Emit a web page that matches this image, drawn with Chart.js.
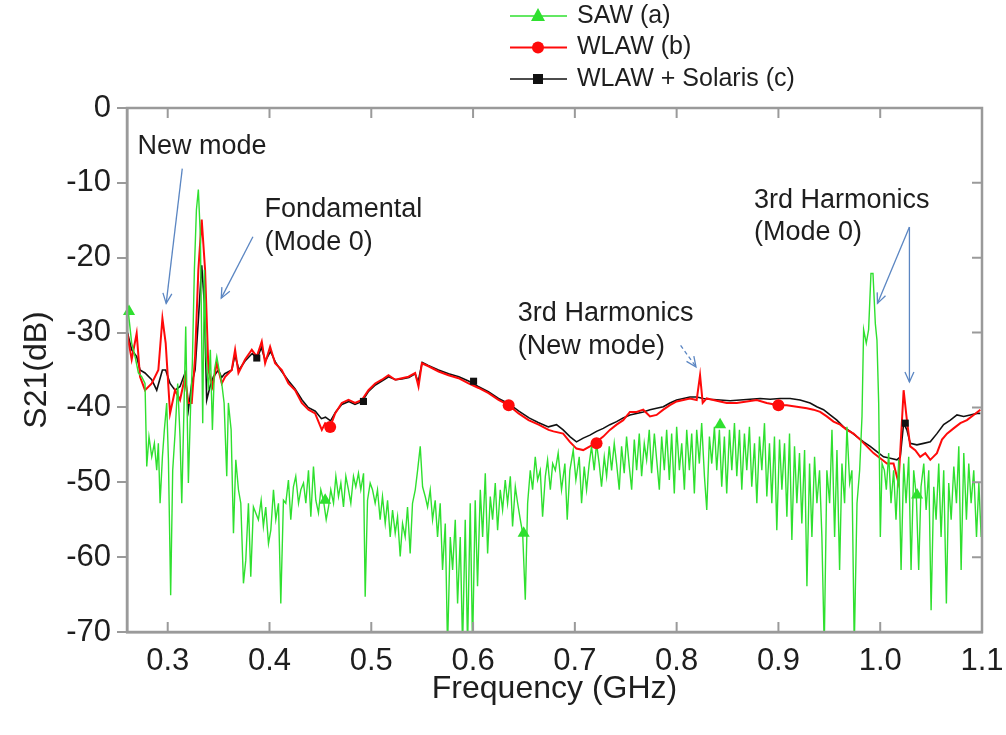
<!DOCTYPE html>
<html><head><meta charset="utf-8">
<script src="https://cdn.jsdelivr.net/npm/chart.js@4.4.0/dist/chart.umd.min.js"></script>
<style>html,body{margin:0;padding:0;background:#fff}#wrap{width:1006px;height:735px}</style>
</head><body><div id="wrap"><canvas id="c" width="1006" height="735" style="width:1006px;height:735px"></canvas></div>
<script>
// ---- axes ----
const xTickValues = [0.3, 0.4, 0.5, 0.6, 0.7, 0.8, 0.9, 1.0, 1.1];
const yTickValues = [0, -10, -20, -30, -40, -50, -60, -70];
const seriesLabels = ['SAW (a)', 'WLAW (b)', 'WLAW + Solaris (c)'];

// ---- SAW (a) [GHz, dB] ----
const sawData = [
[0.2607,-26.5],[0.2646,-31.4],[0.2679,-33.2],[0.2712,-35.4],[0.2744,-35.9],[0.2777,-36.8],[0.2794,-47.9],[0.2816,-43.9],[0.2843,-46.6],[0.2869,-44.8],
[0.2892,-48.4],[0.2908,-44.8],[0.2925,-52.8],[0.2948,-46.6],[0.2967,-43.0],[0.2990,-39.4],[0.3007,-47.0],[0.3029,-65.1],[0.3049,-48.4],[0.3072,-43.5],
[0.3098,-36.8],[0.3121,-43.9],[0.3138,-52.8],[0.3161,-39.4],[0.3177,-29.2],[0.3203,-50.1],[0.3226,-39.4],[0.3242,-34.1],[0.3262,-21.6],[0.3282,-13.6],
[0.3301,-10.9],[0.3321,-17.2],[0.3344,-42.1],[0.3360,-21.6],[0.3377,-33.2],[0.3400,-37.7],[0.3419,-32.3],[0.3439,-43.0],[0.3459,-35.0],[0.3482,-33.2],
[0.3505,-35.0],[0.3531,-36.8],[0.3554,-39.4],[0.3580,-49.2],[0.3596,-39.4],[0.3623,-43.0],[0.3646,-56.8],[0.3669,-47.0],[0.3695,-51.0],[0.3718,-52.8],
[0.3744,-63.5],[0.3767,-60.4],[0.3793,-52.8],[0.3816,-62.6],[0.3842,-53.3],[0.3865,-54.1],[0.3891,-55.0],[0.3918,-52.4],[0.3940,-55.9],[0.3963,-53.3],
[0.3990,-58.2],[0.4013,-56.4],[0.4039,-51.0],[0.4062,-55.0],[0.4088,-52.8],[0.4111,-66.2],[0.4137,-52.4],[0.4160,-52.8],[0.4186,-49.7],[0.4209,-55.0],
[0.4235,-50.6],[0.4258,-49.2],[0.4285,-52.8],[0.4308,-51.0],[0.4334,-50.1],[0.4357,-52.8],[0.4383,-48.4],[0.4406,-54.6],[0.4432,-47.9],[0.4455,-52.4],
[0.4481,-54.1],[0.4504,-51.0],[0.4530,-52.4],[0.4557,-55.0],[0.4580,-53.3],[0.4602,-51.0],[0.4629,-52.8],[0.4652,-49.2],[0.4678,-51.9],[0.4701,-50.1],
[0.4727,-53.3],[0.4750,-49.2],[0.4776,-51.0],[0.4799,-52.8],[0.4825,-49.2],[0.4848,-50.6],[0.4874,-48.8],[0.4897,-51.0],[0.4924,-48.8],[0.4940,-65.3],
[0.4963,-52.4],[0.4989,-50.1],[0.5012,-51.0],[0.5038,-52.8],[0.5061,-51.0],[0.5087,-55.0],[0.5110,-51.9],[0.5137,-55.5],[0.5160,-52.4],[0.5186,-57.3],
[0.5209,-53.7],[0.5235,-56.8],[0.5258,-54.6],[0.5284,-59.9],[0.5307,-55.5],[0.5333,-57.3],[0.5356,-53.3],[0.5382,-59.5],[0.5405,-52.8],[0.5432,-51.0],
[0.5455,-48.4],[0.5481,-45.2],[0.5504,-50.6],[0.5530,-51.9],[0.5553,-53.3],[0.5579,-51.0],[0.5602,-55.0],[0.5628,-52.4],[0.5651,-57.3],[0.5677,-52.8],
[0.5700,-61.7],[0.5727,-55.5],[0.5749,-72.0],[0.5776,-57.3],[0.5799,-61.7],[0.5825,-55.0],[0.5848,-66.2],[0.5874,-57.3],[0.5897,-72.0],[0.5923,-55.0],
[0.5946,-72.0],[0.5972,-52.8],[0.5995,-72.0],[0.6021,-52.4],[0.6044,-63.9],[0.6071,-51.0],[0.6094,-57.3],[0.6120,-48.8],[0.6143,-59.5],[0.6169,-51.9],
[0.6192,-55.0],[0.6218,-50.1],[0.6241,-56.4],[0.6267,-51.0],[0.6290,-53.7],[0.6316,-49.7],[0.6339,-52.8],[0.6366,-49.2],[0.6388,-55.9],[0.6415,-50.6],
[0.6438,-52.8],[0.6464,-55.0],[0.6487,-56.8],[0.6513,-65.7],[0.6536,-52.8],[0.6562,-48.4],[0.6585,-51.0],[0.6611,-46.6],[0.6634,-49.7],[0.6660,-48.4],
[0.6683,-54.6],[0.6710,-49.2],[0.6732,-47.0],[0.6759,-51.0],[0.6782,-47.5],[0.6808,-48.4],[0.6836,-46.1],[0.6869,-51.0],[0.6902,-47.5],[0.6925,-55.0],
[0.6951,-48.4],[0.6984,-45.7],[0.7010,-49.7],[0.7043,-46.6],[0.7066,-52.8],[0.7092,-47.9],[0.7115,-51.0],[0.7141,-47.5],[0.7164,-45.2],[0.7190,-48.4],
[0.7213,-44.8],[0.7239,-47.5],[0.7262,-50.6],[0.7289,-46.6],[0.7312,-49.2],[0.7338,-45.2],[0.7361,-48.4],[0.7387,-44.8],[0.7410,-47.5],[0.7436,-51.0],
[0.7459,-45.2],[0.7485,-48.8],[0.7508,-43.9],[0.7535,-47.9],[0.7558,-51.0],[0.7584,-44.3],[0.7607,-48.4],[0.7633,-43.5],[0.7656,-49.2],[0.7682,-44.8],
[0.7705,-47.0],[0.7731,-43.0],[0.7754,-48.8],[0.7781,-43.5],[0.7804,-47.0],[0.7830,-51.0],[0.7853,-43.9],[0.7879,-48.4],[0.7902,-43.0],[0.7928,-49.7],
[0.7951,-43.5],[0.7977,-51.5],[0.8000,-42.6],[0.8027,-48.4],[0.8050,-44.8],[0.8076,-51.0],[0.8099,-43.0],[0.8125,-48.4],[0.8148,-43.5],[0.8174,-51.5],
[0.8197,-43.0],[0.8223,-47.5],[0.8246,-42.1],[0.8273,-49.2],[0.8296,-53.7],[0.8322,-43.9],[0.8345,-47.5],[0.8371,-42.6],[0.8394,-48.4],[0.8420,-43.0],
[0.8443,-50.6],[0.8469,-43.9],[0.8492,-51.5],[0.8519,-43.0],[0.8542,-48.4],[0.8568,-42.1],[0.8591,-49.2],[0.8617,-43.0],[0.8640,-51.0],[0.8666,-43.5],
[0.8689,-48.4],[0.8715,-42.6],[0.8738,-50.6],[0.8765,-44.8],[0.8788,-52.8],[0.8814,-43.9],[0.8837,-48.4],[0.8863,-42.1],[0.8886,-51.9],[0.8912,-44.8],
[0.8935,-52.8],[0.8961,-43.9],[0.8984,-56.4],[0.9011,-44.3],[0.9034,-51.0],[0.9060,-44.8],[0.9083,-54.6],[0.9109,-43.5],[0.9132,-57.7],[0.9158,-45.2],
[0.9181,-52.8],[0.9207,-46.1],[0.9230,-55.5],[0.9257,-45.7],[0.9280,-63.9],[0.9306,-47.5],[0.9329,-57.3],[0.9355,-46.6],[0.9378,-52.8],[0.9404,-48.4],
[0.9427,-57.3],[0.9450,-72.0],[0.9476,-48.4],[0.9503,-52.8],[0.9526,-43.0],[0.9552,-57.3],[0.9575,-45.7],[0.9601,-61.7],[0.9624,-47.5],[0.9650,-52.8],
[0.9673,-42.6],[0.9700,-50.1],[0.9722,-48.4],[0.9745,-72.0],[0.9772,-52.8],[0.9798,-48.4],[0.9821,-41.2],[0.9837,-29.6],[0.9863,-31.4],[0.9886,-29.6],
[0.9909,-22.1],[0.9929,-22.1],[0.9952,-28.8],[0.9968,-31.0],[0.9985,-39.4],[1.0001,-57.3],[1.0018,-47.5],[1.0041,-48.4],[1.0060,-51.0],[1.0083,-46.1],
[1.0106,-52.8],[1.0132,-48.4],[1.0155,-55.0],[1.0182,-47.0],[1.0205,-61.7],[1.0231,-47.5],[1.0254,-52.8],[1.0280,-46.6],[1.0303,-61.7],[1.0329,-48.4],
[1.0355,-51.9],[1.0378,-61.7],[1.0401,-50.6],[1.0428,-47.5],[1.0451,-53.7],[1.0477,-48.4],[1.0500,-67.1],[1.0526,-50.6],[1.0549,-55.0],[1.0575,-47.5],
[1.0598,-57.3],[1.0624,-48.4],[1.0650,-66.2],[1.0673,-50.1],[1.0697,-55.0],[1.0723,-47.9],[1.0749,-52.8],[1.0772,-45.2],[1.0795,-61.7],[1.0821,-46.1],
[1.0847,-55.0],[1.0870,-47.5],[1.0893,-52.8],[1.0919,-48.4],[1.0946,-57.3],[1.0969,-50.1],[1.0992,-57.3]
];

// ---- WLAW (b) [GHz, dB] ----
const wlawData = [
[0.2605,-30.2],[0.2613,-31.0],[0.2646,-33.6],[0.2695,-30.1],[0.2728,-35.9],[0.2777,-37.7],[0.2843,-36.8],[0.2908,-35.0],[0.2948,-28.1],[0.2980,-31.4],
[0.3023,-40.8],[0.3072,-37.7],[0.3121,-39.0],[0.3170,-35.9],[0.3203,-39.4],[0.3236,-39.4],[0.3269,-33.2],[0.3301,-21.6],[0.3334,-14.9],[0.3367,-21.6],
[0.3400,-35.0],[0.3439,-37.2],[0.3482,-34.1],[0.3531,-36.8],[0.3564,-35.9],[0.3629,-35.0],[0.3662,-32.3],[0.3695,-35.4],[0.3760,-33.6],[0.3826,-32.3],
[0.3875,-33.2],[0.3924,-31.2],[0.3957,-34.1],[0.4006,-31.9],[0.4055,-34.1],[0.4121,-35.0],[0.4186,-36.8],[0.4252,-37.7],[0.4317,-39.4],[0.4383,-40.3],
[0.4448,-40.8],[0.4514,-43.0],[0.4547,-42.1],[0.4596,-42.6],[0.4645,-40.8],[0.4710,-39.4],[0.4776,-39.0],[0.4841,-39.4],[0.4907,-39.0],[0.4972,-37.7],
[0.5038,-36.8],[0.5104,-36.3],[0.5169,-35.7],[0.5235,-36.3],[0.5300,-36.1],[0.5366,-35.9],[0.5431,-35.4],[0.5464,-37.2],[0.5497,-34.1],[0.5562,-34.5],
[0.5661,-35.2],[0.5759,-35.7],[0.5857,-36.1],[0.5955,-36.8],[0.6054,-37.4],[0.6152,-38.1],[0.6250,-39.0],[0.6349,-39.7],[0.6447,-40.8],[0.6545,-41.7],
[0.6644,-42.3],[0.6742,-43.0],[0.6790,-43.2],[0.6885,-43.5],[0.6951,-44.6],[0.7016,-45.5],[0.7082,-45.7],[0.7148,-45.2],[0.7213,-44.6],[0.7279,-43.9],
[0.7344,-43.0],[0.7410,-42.3],[0.7475,-41.7],[0.7541,-40.6],[0.7607,-40.6],[0.7672,-40.3],[0.7738,-41.2],[0.7803,-41.0],[0.7869,-40.3],[0.7934,-39.7],
[0.8000,-39.2],[0.8066,-39.0],[0.8131,-38.8],[0.8197,-39.0],[0.8230,-35.7],[0.8256,-39.4],[0.8295,-38.8],[0.8361,-39.0],[0.8426,-39.2],[0.8492,-39.4],
[0.8590,-39.4],[0.8689,-39.2],[0.8787,-39.0],[0.8885,-39.4],[0.9000,-39.7],[0.9082,-39.7],[0.9180,-39.9],[0.9279,-40.1],[0.9344,-40.3],[0.9410,-40.6],
[0.9475,-41.2],[0.9541,-41.9],[0.9607,-42.3],[0.9672,-43.0],[0.9738,-43.5],[0.9803,-44.3],[0.9869,-45.2],[0.9934,-46.1],[1.0000,-46.8],[1.0066,-47.5],
[1.0131,-47.5],[1.0180,-50.1],[1.0230,-37.7],[1.0262,-41.7],[1.0295,-45.2],[1.0344,-45.7],[1.0393,-46.6],[1.0443,-46.1],[1.0492,-47.0],[1.0557,-46.1],
[1.0607,-44.3],[1.0656,-43.5],[1.0721,-42.8],[1.0787,-42.1],[1.0852,-41.7],[1.0918,-41.0],[1.0984,-40.3]
];

// ---- WLAW + Solaris (c) [GHz, dB] ----
const solarisData = [
[0.2605,-30.0],[0.2613,-30.5],[0.2646,-32.3],[0.2695,-33.2],[0.2728,-35.0],[0.2777,-35.4],[0.2843,-36.3],[0.2892,-37.7],[0.2948,-35.0],[0.2980,-35.0],
[0.3023,-36.8],[0.3072,-37.7],[0.3121,-37.2],[0.3170,-35.4],[0.3203,-40.3],[0.3236,-36.8],[0.3269,-35.0],[0.3301,-28.3],[0.3334,-21.0],[0.3360,-26.1],
[0.3383,-39.0],[0.3416,-37.2],[0.3449,-35.9],[0.3498,-35.0],[0.3530,-36.0],[0.3560,-35.5],[0.3630,-35.0],[0.3660,-33.0],[0.3700,-35.0],[0.3760,-33.8],
[0.3830,-32.8],[0.3880,-33.4],[0.3920,-32.0],[0.3960,-33.8],[0.4010,-32.5],[0.4060,-34.0],[0.4120,-35.2],[0.4190,-36.5],[0.4250,-37.5],[0.4320,-39.0],
[0.4380,-40.0],[0.4450,-40.5],[0.4510,-41.5],[0.4550,-41.3],[0.4600,-41.8],[0.4650,-40.6],[0.4710,-39.6],[0.4780,-39.2],[0.4840,-39.6],[0.4910,-39.2],
[0.4970,-37.9],[0.5040,-37.0],[0.5100,-36.5],[0.5170,-35.9],[0.5240,-36.3],[0.5300,-36.2],[0.5370,-36.0],[0.5430,-35.5],[0.5460,-36.6],[0.5500,-34.0],
[0.5560,-34.4],[0.5660,-35.0],[0.5760,-35.5],[0.5860,-35.9],[0.5960,-36.5],[0.6050,-37.2],[0.6150,-37.9],[0.6250,-38.8],[0.6350,-39.5],[0.6450,-40.5],
[0.6550,-41.4],[0.6640,-42.0],[0.6740,-42.6],[0.6820,-42.3],[0.6885,-43.0],[0.6951,-43.9],[0.7016,-44.6],[0.7082,-44.1],[0.7148,-43.7],[0.7213,-43.2],
[0.7279,-42.8],[0.7344,-42.3],[0.7410,-41.9],[0.7475,-41.4],[0.7541,-41.0],[0.7607,-40.8],[0.7672,-40.6],[0.7738,-40.3],[0.7803,-40.1],[0.7869,-39.9],
[0.7934,-39.4],[0.8000,-39.0],[0.8066,-38.8],[0.8131,-38.6],[0.8197,-38.6],[0.8262,-38.8],[0.8328,-38.9],[0.8426,-39.0],[0.8525,-39.1],[0.8623,-39.0],
[0.8721,-38.9],[0.8820,-38.8],[0.8918,-38.9],[0.9016,-38.8],[0.9115,-38.8],[0.9213,-39.0],[0.9311,-39.4],[0.9377,-39.9],[0.9443,-40.3],[0.9508,-41.0],
[0.9574,-41.7],[0.9639,-42.6],[0.9705,-43.2],[0.9770,-43.9],[0.9836,-44.6],[0.9902,-45.2],[0.9967,-45.9],[1.0033,-46.6],[1.0098,-46.8],[1.0164,-47.0],
[1.0197,-46.6],[1.0230,-42.1],[1.0262,-43.0],[1.0295,-44.8],[1.0360,-45.0],[1.0426,-44.8],[1.0492,-44.6],[1.0557,-43.5],[1.0623,-42.3],[1.0689,-41.7],
[1.0754,-41.0],[1.0820,-41.2],[1.0885,-41.0],[1.0951,-40.8],[1.0984,-40.8]
];

// ---- sparse symbols drawn on each curve ----
const sawMarkers = [[0.2620,-27.2],[0.4547,-52.4],[0.6497,-56.8],[0.8427,-42.3],[1.0362,-51.7]];
const wlawMarkers = [[0.4596,-42.6],[0.6350,-39.7],[0.7213,-44.8],[0.9000,-39.7]];
const solarisMarkers = [[0.3875,-33.4],[0.4923,-39.2],[0.6005,-36.5],[1.0246,-42.1]];

// ---- annotations (data coordinates) ----
const annotationTexts = [
  ['New mode', 0.2703, -5.2],
  ['Fondamental', 0.3952, -13.6],
  ['(Mode 0)', 0.3952, -18.0],
  ['3rd Harmonics', 0.6440, -27.4],
  ['(New mode)', 0.6440, -31.9],
  ['3rd Harmonics', 0.8760, -12.4],
  ['(Mode 0)', 0.8760, -16.7]
];
const annotationArrows = [
  [0.3143, -8.1, 0.2985, -26.1, false],
  [0.3837, -17.2, 0.3526, -25.4, false],
  [0.8039, -31.7, 0.8190, -34.6, true],
  [1.0287, -15.9, 0.9973, -26.1, false],
  [1.0287, -15.9, 1.0287, -36.6, false]
];

const GREEN = '#2fe02f', RED = '#ff0a0a', BLACK = '#111111', AXIS = '#9a9a9a', TEXT = '#1e1e1e', ARROW = '#5b86c2';
const FONT = "'Liberation Sans', Arial, Helvetica, sans-serif";
const pts = arr => arr.map(p => ({x: p[0], y: p[1]}));

function drawMarker(ctx, style, cx, cy, color) {
  ctx.fillStyle = color;
  ctx.beginPath();
  if (style === 'triangle') { ctx.moveTo(cx, cy - 8); ctx.lineTo(cx - 7, cy + 5); ctx.lineTo(cx + 7, cy + 5); ctx.closePath(); }
  else if (style === 'circle') { ctx.arc(cx, cy, 6, 0, Math.PI * 2); }
  else { ctx.rect(cx - 5, cy - 5, 10, 10); }
  ctx.fill();
}

const framePlugin = {
  id: 'frame',
  afterDraw(chart) {
    const {ctx, chartArea: a, scales: {x, y}} = chart;
    ctx.save();
    ctx.strokeStyle = AXIS; ctx.lineWidth = 2.5;
    ctx.strokeRect(a.left, a.top, a.right - a.left, a.bottom - a.top);
    ctx.lineWidth = 2;
    ctx.beginPath();
    xTickValues.forEach(v => {
      const px = x.getPixelForValue(v);
      ctx.moveTo(px, a.bottom); ctx.lineTo(px, a.bottom - 10);
      ctx.moveTo(px, a.top); ctx.lineTo(px, a.top + 10);
    });
    yTickValues.forEach(v => {
      const py = y.getPixelForValue(v);
      ctx.moveTo(a.right, py); ctx.lineTo(a.right - 10, py);
    });
    ctx.stroke();
    ctx.fillStyle = TEXT; ctx.font = '27px ' + FONT; ctx.textBaseline = 'middle'; ctx.textAlign = 'left';
    annotationTexts.forEach(([t, vx, vy]) => ctx.fillText(t, x.getPixelForValue(vx), y.getPixelForValue(vy)));
    ctx.strokeStyle = ARROW; ctx.lineWidth = 1.3;
    annotationArrows.forEach(([x0, y0, x1, y1, dashed]) => {
      const X0 = x.getPixelForValue(x0), Y0 = y.getPixelForValue(y0), X1 = x.getPixelForValue(x1), Y1 = y.getPixelForValue(y1);
      ctx.setLineDash(dashed ? [4, 3] : []);
      ctx.beginPath(); ctx.moveTo(X0, Y0); ctx.lineTo(X1, Y1); ctx.stroke();
      ctx.setLineDash([]);
      const ang = Math.atan2(Y1 - Y0, X1 - X0), L = 11, w = 0.42;
      ctx.beginPath();
      ctx.moveTo(X1 - L * Math.cos(ang - w), Y1 - L * Math.sin(ang - w));
      ctx.lineTo(X1, Y1);
      ctx.lineTo(X1 - L * Math.cos(ang + w), Y1 - L * Math.sin(ang + w));
      ctx.stroke();
    });
    const items = [[seriesLabels[0], GREEN, 'triangle', 1.4], [seriesLabels[1], RED, 'circle', 2], [seriesLabels[2], BLACK, 'rect', 1.6]];
    ctx.font = '25px ' + FONT; ctx.textBaseline = 'middle';
    items.forEach(([label, color, style, lw], i) => {
      const ly = 16 + i * 31.5;
      ctx.strokeStyle = color; ctx.lineWidth = lw;
      ctx.beginPath(); ctx.moveTo(510, ly); ctx.lineTo(567, ly); ctx.stroke();
      drawMarker(ctx, style, 538, ly, color);
      ctx.fillStyle = TEXT; ctx.fillText(label, 577, ly);
    });
    ctx.restore();
  }
};

const lineDs = (label, data, color, width, order) => ({
  label, data: pts(data), borderColor: color, backgroundColor: color, borderWidth: width,
  pointRadius: 0, tension: 0, fill: false, order, clip: 0
});
const markerDs = (label, data, color, style, r, order) => ({
  label, data: pts(data), showLine: false, pointStyle: style, pointRadius: r,
  pointBackgroundColor: color, pointBorderColor: color, pointBorderWidth: 0, order, clip: 8
});

new Chart(document.getElementById('c'), {
  type: 'line',
  data: {
    datasets: [
      lineDs(seriesLabels[0], sawData, GREEN, 1.4, 1),
      lineDs(seriesLabels[1], wlawData, RED, 2, 2),
      lineDs(seriesLabels[2], solarisData, BLACK, 1.6, 3),
      markerDs(seriesLabels[0] + ' symbols', sawMarkers, GREEN, 'triangle', 7, 0),
      markerDs(seriesLabels[1] + ' symbols', wlawMarkers, RED, 'circle', 6, 0),
      markerDs(seriesLabels[2] + ' symbols', solarisMarkers, BLACK, 'rect', 5, 0)
    ]
  },
  options: {
    responsive: false, animation: false, events: [],
    layout: {padding: {top: 108, right: 24, left: 0, bottom: 0}},
    plugins: {legend: {display: false}, tooltip: {enabled: false}},
    scales: {
      x: {
        type: 'linear', min: 0.26, max: 1.1,
        afterBuildTicks: s => { s.ticks = xTickValues.map(v => ({value: v})); },
        afterFit: s => { s.height = 103; s.paddingLeft = 0; s.paddingRight = 0; },
        grid: {drawOnChartArea: false, drawTicks: false},
        border: {display: true, color: AXIS, width: 2.5},
        ticks: {font: {family: FONT, size: 31}, color: TEXT, padding: 11, maxRotation: 0, autoSkip: false,
                callback: v => Number(v).toFixed(1)},
        title: {display: true, text: 'Frequency (GHz)', font: {family: FONT, size: 32}, color: TEXT, padding: {top: 0, bottom: 27}}
      },
      y: {
        type: 'linear', min: -70, max: 0,
        afterBuildTicks: s => { s.ticks = yTickValues.map(v => ({value: v})); },
        afterFit: s => { s.width = 127; s.paddingTop = 0; s.paddingBottom = 0; },
        grid: {drawOnChartArea: false, drawTicks: true, tickLength: 10, color: AXIS, lineWidth: 2},
        border: {display: true, color: AXIS, width: 2.5},
        ticks: {font: {family: FONT, size: 31}, color: TEXT, padding: 6, autoSkip: false, callback: v => String(v)},
        title: {display: true, text: 'S21(dB)', font: {family: FONT, size: 32}, color: TEXT, padding: {top: 18, bottom: 0}}
      }
    }
  },
  plugins: [framePlugin]
});
</script>
</body></html>
